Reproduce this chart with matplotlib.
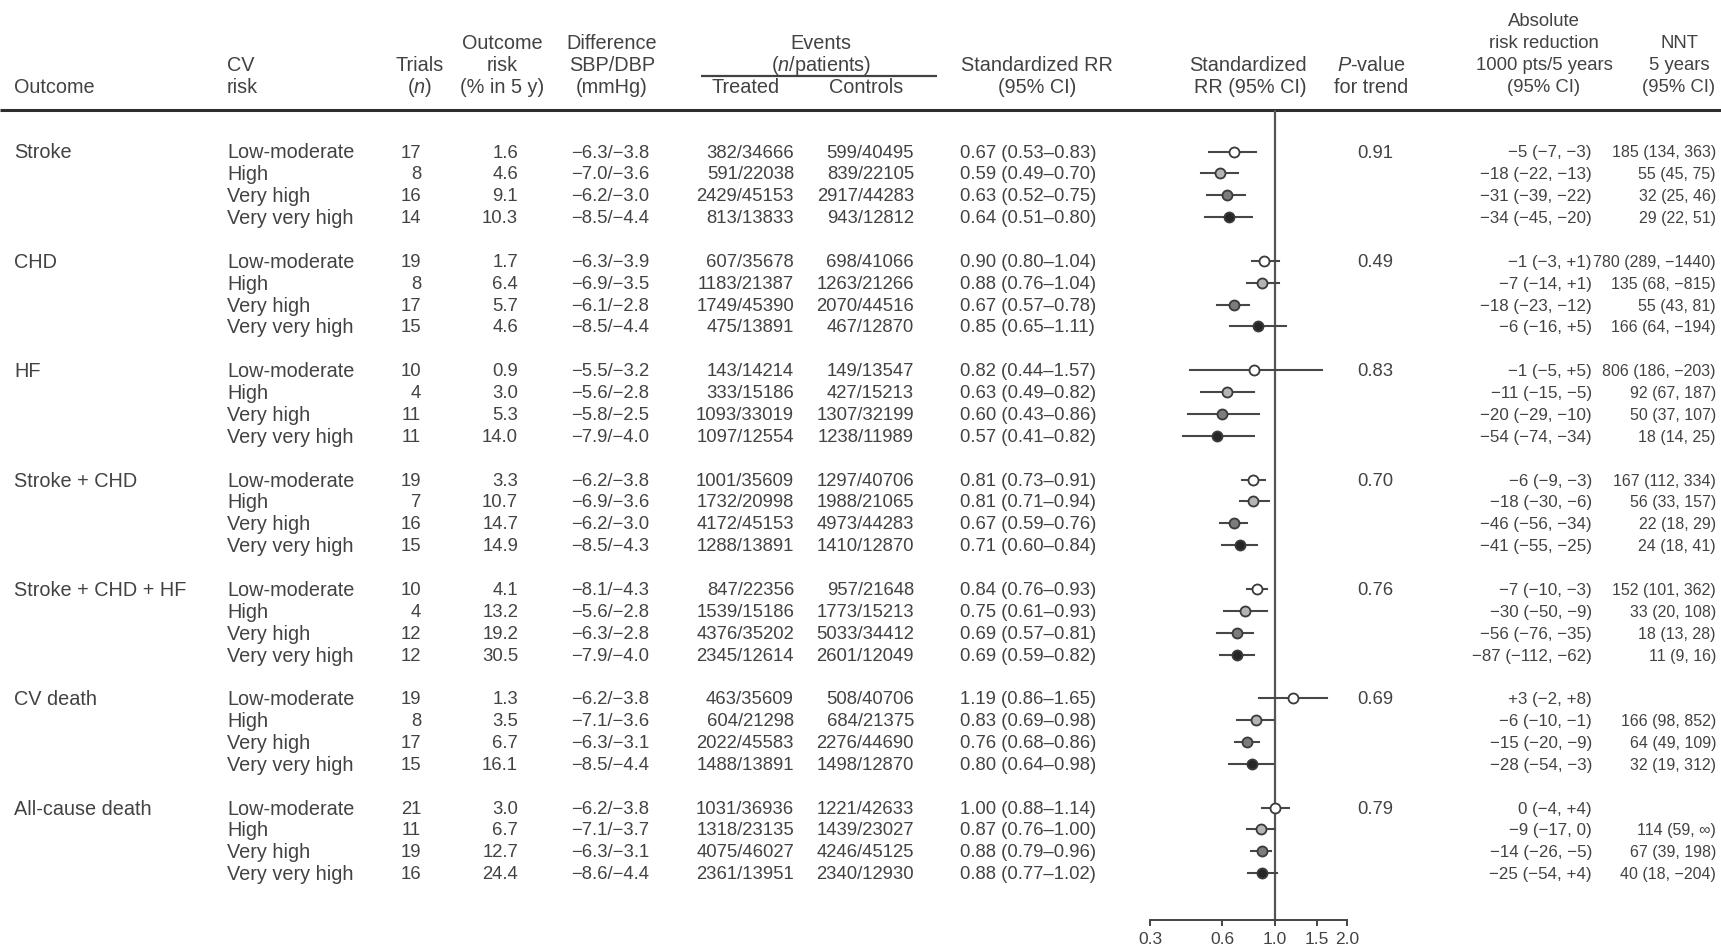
import matplotlib
matplotlib.use("Agg")
import matplotlib.pyplot as plt
import numpy as np

plt.rcParams['font.family'] = ['Liberation Sans', 'DejaVu Sans']
plt.rcParams['mathtext.fontset'] = 'custom'
plt.rcParams['mathtext.rm'] = 'Liberation Sans'
plt.rcParams['mathtext.it'] = 'Liberation Sans:italic'

# ---------------- data ----------------
outcomes = ["Stroke", "CHD", "HF", "Stroke + CHD", "Stroke + CHD + HF",
            "CV death", "All-cause death"]
risk_levels = ["Low-moderate", "High", "Very high", "Very very high"]

trials = [[17, 8, 16, 14], [19, 8, 17, 15], [10, 4, 11, 11], [19, 7, 16, 15],
          [10, 4, 12, 12], [19, 8, 17, 15], [21, 11, 19, 16]]
outcome_risk = [[1.6, 4.6, 9.1, 10.3], [1.7, 6.4, 5.7, 4.6], [0.9, 3.0, 5.3, 14.0],
                [3.3, 10.7, 14.7, 14.9], [4.1, 13.2, 19.2, 30.5],
                [1.3, 3.5, 6.7, 16.1], [3.0, 6.7, 12.7, 24.4]]
sbp_diff = [[-6.3, -7.0, -6.2, -8.5], [-6.3, -6.9, -6.1, -8.5], [-5.5, -5.6, -5.8, -7.9],
            [-6.2, -6.9, -6.2, -8.5], [-8.1, -5.6, -6.3, -7.9],
            [-6.2, -7.1, -6.3, -8.5], [-6.2, -7.1, -6.3, -8.6]]
dbp_diff = [[-3.8, -3.6, -3.0, -4.4], [-3.9, -3.5, -2.8, -4.4], [-3.2, -2.8, -2.5, -4.0],
            [-3.8, -3.6, -3.0, -4.3], [-4.3, -2.8, -2.8, -4.0],
            [-3.8, -3.6, -3.1, -4.4], [-3.8, -3.7, -3.1, -4.4]]
treated_events = [[382, 591, 2429, 813], [607, 1183, 1749, 475], [143, 333, 1093, 1097],
                  [1001, 1732, 4172, 1288], [847, 1539, 4376, 2345],
                  [463, 604, 2022, 1488], [1031, 1318, 4075, 2361]]
treated_patients = [[34666, 22038, 45153, 13833], [35678, 21387, 45390, 13891],
                    [14214, 15186, 33019, 12554], [35609, 20998, 45153, 13891],
                    [22356, 15186, 35202, 12614], [35609, 21298, 45583, 13891],
                    [36936, 23135, 46027, 13951]]
control_events = [[599, 839, 2917, 943], [698, 1263, 2070, 467], [149, 427, 1307, 1238],
                  [1297, 1988, 4973, 1410], [957, 1773, 5033, 2601],
                  [508, 684, 2276, 1498], [1221, 1439, 4246, 2340]]
control_patients = [[40495, 22105, 44283, 12812], [41066, 21266, 44516, 12870],
                    [13547, 15213, 32199, 11989], [40706, 21065, 44283, 12870],
                    [21648, 15213, 34412, 12049], [40706, 21375, 44690, 12870],
                    [42633, 23027, 45125, 12930]]
rr = [[0.67, 0.59, 0.63, 0.64], [0.90, 0.88, 0.67, 0.85], [0.82, 0.63, 0.60, 0.57],
      [0.81, 0.81, 0.67, 0.71], [0.84, 0.75, 0.69, 0.69], [1.19, 0.83, 0.76, 0.80],
      [1.00, 0.87, 0.88, 0.88]]
rr_lo = [[0.53, 0.49, 0.52, 0.51], [0.80, 0.76, 0.57, 0.65], [0.44, 0.49, 0.43, 0.41],
         [0.73, 0.71, 0.59, 0.60], [0.76, 0.61, 0.57, 0.59], [0.86, 0.69, 0.68, 0.64],
         [0.88, 0.76, 0.79, 0.77]]
rr_hi = [[0.83, 0.70, 0.75, 0.80], [1.04, 1.04, 0.78, 1.11], [1.57, 0.82, 0.86, 0.82],
         [0.91, 0.94, 0.76, 0.84], [0.93, 0.93, 0.81, 0.82], [1.65, 0.98, 0.86, 0.98],
         [1.14, 1.00, 0.96, 1.02]]
p_trend = ["0.91", "0.49", "0.83", "0.70", "0.76", "0.69", "0.79"]
arr = [[-5, -18, -31, -34], [-1, -7, -18, -6], [-1, -11, -20, -54], [-6, -18, -46, -41],
       [-7, -30, -56, -87], [3, -6, -15, -28], [0, -9, -14, -25]]
arr_lo = [[-7, -22, -39, -45], [-3, -14, -23, -16], [-5, -15, -29, -74],
          [-9, -30, -56, -55], [-10, -50, -76, -112], [-2, -10, -20, -54],
          [-4, -17, -26, -54]]
arr_hi = [[-3, -13, -22, -20], [1, 1, -12, 5], [5, -5, -10, -34], [-3, -6, -34, -25],
          [-3, -9, -35, -62], [8, -1, -9, -3], [4, 0, -5, 4]]
INF = float('inf')
nnt = [[185, 55, 32, 29], [780, 135, 55, 166], [806, 92, 50, 18], [167, 56, 22, 24],
       [152, 33, 18, 11], [None, 166, 64, 32], [None, 114, 67, 40]]
nnt_lo = [[134, 45, 25, 22], [289, 68, 43, 64], [186, 67, 37, 14], [112, 33, 18, 18],
          [101, 20, 13, 9], [None, 98, 49, 19], [None, 59, 39, 18]]
nnt_hi = [[363, 75, 46, 51], [-1440, -815, 81, -194], [-203, 187, 107, 25],
          [334, 157, 29, 41], [362, 108, 28, 16], [None, 852, 109, 312],
          [None, INF, 198, -204]]
tick_values = [0.3, 0.6, 1.0, 1.5, 2.0]
tick_labels = ["0.3", "0.6", "1.0", "1.5", "2.0"]

# ---------------- styling / layout ----------------
W, H = 1721, 951
TXT = '#424242'
FS_LBL = 14.3     # words (header, outcome names, risk levels)
FS_NUM = 13.3     # numeric columns
FS_ARR = 12.2     # absolute risk reduction column
FS_NNT = 11.5     # NNT column
marker_fill = ['white', '#b4b4b4', '#7c7c7c', '#262626']


def sgn(v):
    if v == INF:
        return '\u221e'
    if v < 0:
        return '\u2212%d' % (-v)
    if v > 0:
        return '+%d' % v
    return '0'


def plain(v):
    if v == INF:
        return '\u221e'
    if v < 0:
        return '\u2212%d' % (-v)
    return '%d' % v


def m1(v):
    return '\u2212%.1f' % (-v) if v < 0 else '%.1f' % v


fig = plt.figure(figsize=(W / 100, H / 100), dpi=100)
fig.patch.set_facecolor('white')
tab = fig.add_axes([0, 0, 1, 1])
tab.set_xlim(0, W)
tab.set_ylim(H, 0)
tab.axis('off')

# header
hy = [21.8, 43.7, 65.7, 87.6]


def ht(x, y, s, ha='center', fs=FS_LBL):
    tab.text(x, y, s, ha=ha, va='center', fontsize=fs, color=TXT)


ht(14, hy[3], 'Outcome', 'left')
ht(227, hy[2], 'CV', 'left')
ht(227, hy[3], 'risk', 'left')
ht(420, hy[2], 'Trials')
ht(420, hy[3], '($n$)')
ht(502, hy[1], 'Outcome')
ht(502, hy[2], 'risk')
ht(502, hy[3], '(% in 5 y)')
ht(612, hy[1], 'Difference')
ht(612, hy[2], 'SBP/DBP')
ht(612, hy[3], '(mmHg)')
ht(821, hy[1], 'Events')
ht(821, hy[2], '($n$/patients)')
tab.plot([701, 937], [76, 76], color=TXT, lw=1.6, solid_capstyle='butt')
ht(746, hy[3], 'Treated')
ht(866, hy[3], 'Controls')
ht(1037, hy[2], 'Standardized RR')
ht(1037, hy[3], '(95% CI)')
ht(1307, hy[2], 'Standardized', 'right')
ht(1307, hy[3], 'RR (95% CI)', 'right')
ht(1371, hy[2], '$P$-value')
ht(1371, hy[3], 'for trend')
ht(1544, hy[0], 'Absolute', fs=FS_NUM)
ht(1544, hy[1], 'risk reduction', fs=FS_NUM)
ht(1544, hy[2], '1000 pts/5 years', fs=FS_NUM)
ht(1544, hy[3], '(95% CI)', fs=FS_NUM)
ht(1679, hy[1], 'NNT', fs=FS_NUM)
ht(1679, hy[2], '5 years', fs=FS_NUM)
ht(1679, hy[3], '(95% CI)', fs=FS_NUM)
tab.plot([0, W], [110, 110], color='#2e2e2e', lw=2.2, solid_capstyle='butt')

# rows
y0, dy = 151.5, 21.87
toff = 1.5
row_y = []
for g, name in enumerate(outcomes):
    ys = [y0 + (g * 5 + j) * dy for j in range(4)]
    row_y.append(ys)
    tab.text(14, ys[0] + toff, name, ha='left', va='center', fontsize=FS_LBL, color=TXT)
    tab.text(1357, ys[0] + toff, p_trend[g], ha='left', va='center', fontsize=FS_NUM, color=TXT)
    for j, lvl in enumerate(risk_levels):
        y = ys[j] + toff
        tab.text(227, y, lvl, ha='left', va='center', fontsize=FS_LBL, color=TXT)
        tab.text(421, y, '%d' % trials[g][j], ha='right', va='center', fontsize=FS_NUM, color=TXT)
        tab.text(518, y, '%.1f' % outcome_risk[g][j], ha='right', va='center',
                 fontsize=FS_NUM, color=TXT)
        tab.text(610, y, m1(sbp_diff[g][j]) + '/' + m1(dbp_diff[g][j]), ha='center',
                 va='center', fontsize=FS_NUM, color=TXT)
        tab.text(794, y, '%d/%d' % (treated_events[g][j], treated_patients[g][j]),
                 ha='right', va='center', fontsize=FS_NUM, color=TXT)
        tab.text(914, y, '%d/%d' % (control_events[g][j], control_patients[g][j]),
                 ha='right', va='center', fontsize=FS_NUM, color=TXT)
        tab.text(960, y, '%.2f (%.2f\u2013%.2f)' % (rr[g][j], rr_lo[g][j], rr_hi[g][j]),
                 ha='left', va='center', fontsize=FS_NUM, color=TXT)
        tab.text(1592, y, '%s (%s, %s)' % (sgn(arr[g][j]), sgn(arr_lo[g][j]), sgn(arr_hi[g][j])),
                 ha='right', va='center', fontsize=FS_ARR, color=TXT)
        if nnt[g][j] is not None:
            tab.text(1716, y, '%s (%s, %s)' % (plain(nnt[g][j]), plain(nnt_lo[g][j]),
                                               plain(nnt_hi[g][j])),
                     ha='right', va='center', fontsize=FS_NNT, color=TXT)

# forest plot axes (log scale)
px_left, px_right, px_top, px_bot = 1100, 1400, 110, 920
k = 103.5
fx = fig.add_axes([px_left / W, 1 - px_bot / H, (px_right - px_left) / W, (px_bot - px_top) / H])
fx.set_xscale('log')
fx.set_xlim(np.exp((px_left - 1275) / k), np.exp((px_right - 1275) / k))
fx.set_ylim(px_bot, px_top)
fx.patch.set_alpha(0)
for s in ['top', 'right', 'left']:
    fx.spines[s].set_visible(False)
fx.spines['bottom'].set_bounds(tick_values[0], tick_values[-1])
fx.spines['bottom'].set_color('#444444')
fx.spines['bottom'].set_linewidth(1.4)
fx.set_yticks([])
fx.xaxis.set_minor_locator(matplotlib.ticker.NullLocator())
fx.set_xticks(tick_values)
fx.set_xticklabels(tick_labels)
fx.tick_params(axis='x', direction='out', length=4, width=1.4, color='#444444',
               labelsize=12.5, labelcolor=TXT, pad=5)
fx.axvline(1.0, color='#555555', lw=1.6, zorder=1)

for g in range(len(outcomes)):
    for j in range(4):
        y = row_y[g][j]
        fx.plot([rr_lo[g][j], rr_hi[g][j]], [y, y], color='#474747', lw=1.5, zorder=2)
        fx.plot([rr[g][j]], [y], marker='o', ms=7.2, mfc=marker_fill[j], mec='#3a3a3a',
                mew=1.3, zorder=3, linestyle='none')

fig.savefig('out.png', dpi=100, facecolor='white')
